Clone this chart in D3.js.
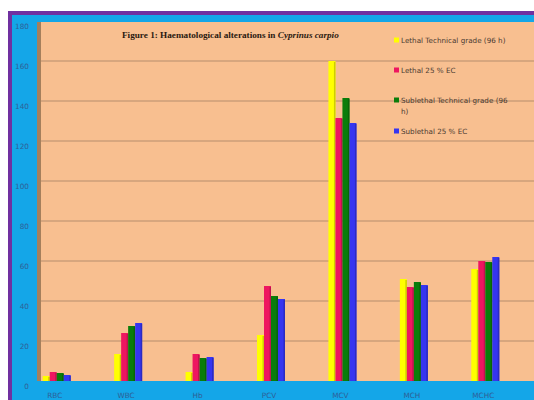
<!DOCTYPE html>
<html>
<head>
<meta charset="utf-8">
<script src="https://cdn.jsdelivr.net/npm/d3@7"></script>
<style>
  body { margin: 0; background: #fff; overflow: hidden; }
  svg { display: block; }
</style>
</head>
<body>
<div id="chart"></div>
<script>
// haematology values
var categories = ['RBC', 'WBC', 'Hb', 'PCV', 'MCV', 'MCH', 'MCHC'];
var seriesNames = ['Lethal Technical grade (96 h)', 'Lethal 25 % EC', 'Sublethal Technical grade      (96 h)', 'Sublethal 25 % EC'];
var lethalTech = [2.5, 13.5, 4.5, 23, 160, 51, 56];
var lethalEC = [4.5, 24, 13.5, 47.5, 131.5, 47, 60];
var subTech = [4, 27.5, 11.5, 42.5, 141.5, 49.5, 59.5];
var subEC = [3, 29, 12, 41, 129, 48, 62];
var yTicks = [0, 20, 40, 60, 80, 100, 120, 140, 160, 180];

var colors = ['#ffff00', '#ee1660', '#0a7d0a', '#3535f0'];
var series = [lethalTech, lethalEC, subTech, subEC];

var W = 534, H = 400;
var svg = d3.select('#chart').append('svg')
  .attr('width', W)
  .attr('height', H);

// frame: white, purple rim, blue back
svg.append('rect').attr('x', 0).attr('y', 0).attr('width', W).attr('height', H).attr('fill', '#fff');
svg.append('rect').attr('x', 8).attr('y', 11).attr('width', W - 8).attr('height', H - 11).attr('fill', '#7030a0');
svg.append('rect').attr('x', 12).attr('y', 15).attr('width', W - 12).attr('height', H - 15).attr('fill', '#14a6e8');

var y = d3.scaleLinear()
  .domain([0, 180])
  .range([381, 21]);

var x = d3.scaleBand()
  .domain(categories)
  .range([21, 521]);

var xs = d3.scaleBand()
  .domain(d3.range(series.length))
  .range([0, 28]);

// side wall and back wall
svg.append('rect')
  .attr('x', 37).attr('y', y(180) + 1)
  .attr('width', 5).attr('height', y(0) - y(180) - 1)
  .attr('fill', '#a57f5c');
svg.append('rect')
  .attr('x', 41).attr('y', y(180) + 1)
  .attr('width', W - 41).attr('height', y(0) - y(180) - 1)
  .attr('fill', '#f8bf90');

// gridlines
svg.append('g').selectAll('line')
  .data(yTicks.filter(function(d) { return d > 0 && d < 180; }))
  .enter().append('line')
  .attr('x1', 41).attr('x2', W)
  .attr('y1', function(d) { return y(d); })
  .attr('y2', function(d) { return y(d); })
  .attr('stroke', '#b58d6c')
  .attr('stroke-width', 1.2);

// y labels
svg.append('g').selectAll('text')
  .data(yTicks)
  .enter().append('text')
  .attr('x', 29)
  .attr('y', function(d) { return y(d) + 7.5; })
  .attr('text-anchor', 'end')
  .attr('font-family', 'DejaVu Sans, Verdana, sans-serif')
  .attr('font-size', 7.3)
  .attr('fill', '#2f5f96')
  .text(String);

// bars
series.forEach(function(vals, s) {
  var g = svg.append('g');
  g.selectAll('rect.bar')
    .data(vals)
    .enter().append('rect')
    .attr('class', 'bar')
    .attr('x', function(d, i) { return x(categories[i]) + x.bandwidth() / 2 - 14 + xs(s); })
    .attr('y', function(d) { return y(d); })
    .attr('width', xs.bandwidth())
    .attr('height', function(d) { return y(0) - y(d); })
    .attr('fill', colors[s]);
  // darker side for a bit of depth
  g.selectAll('rect.side')
    .data(vals)
    .enter().append('rect')
    .attr('class', 'side')
    .attr('x', function(d, i) { return x(categories[i]) + x.bandwidth() / 2 - 14 + xs(s) + xs.bandwidth() - 1.5; })
    .attr('y', function(d) { return y(d) + 1; })
    .attr('width', 1.5)
    .attr('height', function(d) { return y(0) - y(d) - 1; })
    .attr('fill', d3.color(colors[s]).darker(0.6));
});

// x labels
svg.append('g').selectAll('text')
  .data(categories)
  .enter().append('text')
  .attr('x', function(d) { return x(d) + x.bandwidth() / 2 - 2; })
  .attr('y', 398)
  .attr('text-anchor', 'middle')
  .attr('font-family', 'DejaVu Sans, Verdana, sans-serif')
  .attr('font-size', 7.3)
  .attr('fill', '#2f5f96')
  .text(String);

// title
var title = svg.append('text')
  .attr('x', 122)
  .attr('y', 37.5)
  .attr('font-family', 'Liberation Serif, Times New Roman, serif')
  .attr('font-size', 9.2)
  .attr('font-weight', 'bold')
  .attr('fill', '#2b1a10');
title.append('tspan').text('Figure 1:  Haematological alterations in ');
title.append('tspan').attr('font-style', 'italic').text('Cyprinus carpio');

// legend
var legendY = [40, 70, 100, 131];
var legend = svg.append('g');
seriesNames.forEach(function(name, i) {
  legend.append('rect')
    .attr('x', 394).attr('y', legendY[i] - 2.5)
    .attr('width', 5).attr('height', 5)
    .attr('fill', colors[i]);
  var t = legend.append('text')
    .attr('x', 401)
    .attr('y', legendY[i] + 2.6)
    .attr('font-family', 'DejaVu Sans, Verdana, sans-serif')
    .attr('font-size', 7.2)
    .attr('fill', '#4a3a30');
  if (i == 2) {
    t.append('tspan').text('Sublethal Technical grade     (96');
    t.append('tspan').attr('x', 401).attr('dy', 11.5).text('h)');
  } else {
    t.text(name);
  }
});
</script>
</body>
</html>
